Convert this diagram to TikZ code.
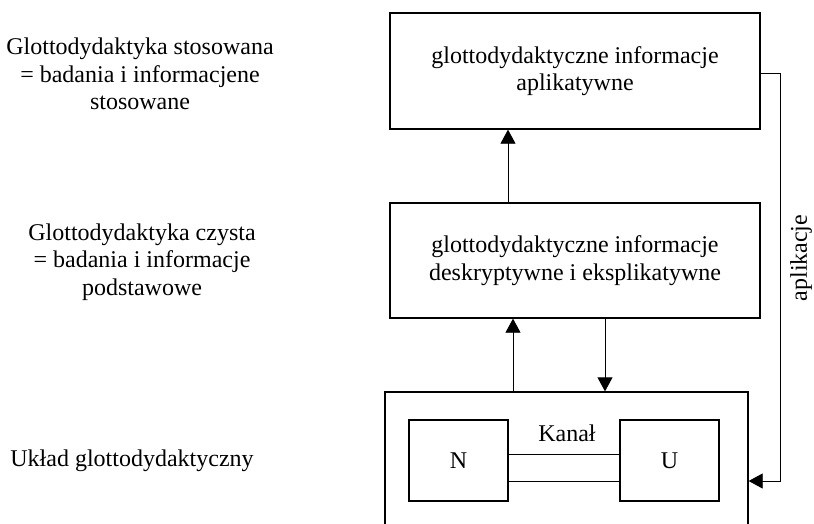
\documentclass[tikz,border=0pt]{standalone}
\usepackage{fontspec}
\setmainfont{Liberation Serif}
\usetikzlibrary{arrows.meta}
\tikzset{
  box/.style={draw, line width=1.3pt, inner sep=0pt, align=center},
  arr/.style={draw, line width=0.8pt, -{Triangle[length=14pt,width=15pt]}},
  lab/.style={align=center}
}
\begin{document}
\begin{tikzpicture}[x=1pt,y=-1pt,font=\fontsize{24}{27.5}\selectfont]
\useasboundingbox (0,0) rectangle (814,523);
\clip (0,0) rectangle (814,523);
\node[box, minimum width=370pt, minimum height=116pt] (apl) at (575,71) {glottodydaktyczne informacje\\aplikatywne};
\node[box, minimum width=370pt, minimum height=115pt] (desk) at (575,260.5) {glottodydaktyczne informacje\\deskryptywne i eksplikatywne};
\node[box, minimum width=363pt, minimum height=178pt] (uklad) at (566.5,481) {};
\node[box, minimum width=99pt, minimum height=81pt] (n) at (458.5,460.5) {N};
\node[box, minimum width=99pt, minimum height=81pt] (u) at (669.5,460.5) {U};
\node (kanal) at (567,433) {Kanał};
\node[lab] (stos) at (140,74) {Glottodydaktyka stosowana\\= badania i informacjene\\stosowane};
\node[lab] (czys) at (142,262) {Glottodydaktyka czysta\\= badania i informacje\\podstawowe};
\node (ukl) at (132,461) {Układ glottodydaktyczny};
\node[rotate=90, inner sep=1pt] (apk) at (801,258) {aplikacje};
\path[arr] ([xshift=-67pt]desk.north) -- ([xshift=-67pt]apl.south);
\path[arr] ([xshift=-62pt]desk.south |- uklad.north) -- ([xshift=-62pt]desk.south);
\path[arr] ([xshift=30pt]desk.south) -- ([xshift=30pt]desk.south |- uklad.north);
\path[arr] ([yshift=-2pt]apl.east) -- ++(20,0) |- (uklad.east);
\path[draw, line width=0.8pt] ([yshift=6.5pt]n.east) -- ([yshift=6.5pt]u.west);
\path[draw, line width=0.8pt] ([yshift=-20.5pt]n.east) -- ([yshift=-20.5pt]u.west);
\end{tikzpicture}
\end{document}
